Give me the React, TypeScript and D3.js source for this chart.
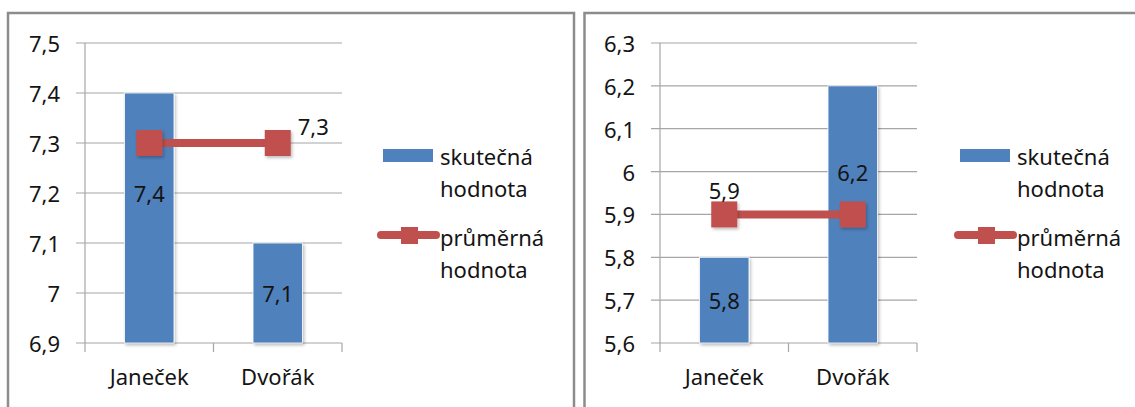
import React from "react";
import * as d3 from "d3";

const categories = ["Janeček", "Dvořák"];
const leftActual = [7.4, 7.1];
const leftAverage = [7.3, 7.3];
const leftTicks = [6.9, 7.0, 7.1, 7.2, 7.3, 7.4, 7.5];
const rightActual = [5.8, 6.2];
const rightAverage = [5.9, 5.9];
const rightTicks = [5.6, 5.7, 5.8, 5.9, 6.0, 6.1, 6.2, 6.3];
const legendLabels = [["skutečná", "hodnota"], ["průměrná", "hodnota"]];

const BLUE = "#4F81BD";
const RED = "#C0504D";
const GRID = "#A6A6A6";
const TEXT = "#141414";
const FONT = "'Noto Sans', 'Open Sans', sans-serif";
const FS = 22;

const fmt = (v: number) => {
  const s = d3.format("~g")(+v.toFixed(2));
  return s.replace(".", ",");
};

type PanelProps = {
  frameX: number;
  x0: number;
  x1: number;
  domain: [number, number];
  ticks: number[];
  actual: number[];
  average: number[];
  barLabelAt: number[];
  avgLabelIdx: number;
  avgLabelMode: "right" | "above";
  legendX: number;
};

function Panel(p: PanelProps) {
  const y0 = 343;
  const y1 = 43;
  const y = d3.scaleLinear().domain(p.domain).range([y0, y1]);
  const x = d3.scaleBand<string>().domain(categories).range([p.x0, p.x1]).padding(0);
  const bw = x.bandwidth() * 0.385;
  const cx = (c: string) => (x(c) as number) + x.bandwidth() / 2;
  const line = d3
    .line<number>()
    .x((_, i) => cx(categories[i]))
    .y((d) => y(d));
  const bounds = [p.x0, ...categories.map((c) => (x(c) as number) + x.bandwidth())];
  const ai = p.avgLabelIdx;
  const ax = cx(categories[ai]);
  const ay = y(p.average[ai]);
  const lx = p.legendX;
  return (
    <g>
      <rect x={p.frameX} y={13} width={566} height={420} fill="#fff" stroke="#8C8C8C" strokeWidth={2.5} />
      {p.ticks.map((t) => (
        <g key={t}>
          <line x1={p.x0 - 9} x2={p.x1} y1={y(t)} y2={y(t)} stroke={GRID} strokeWidth={1.2} />
          <text x={p.x0 - 25} y={y(t)} textAnchor="end" dominantBaseline="central" fontSize={FS} fill={TEXT}>
            {fmt(t)}
          </text>
        </g>
      ))}
      <line x1={p.x0} x2={p.x0} y1={y1} y2={y0} stroke={GRID} strokeWidth={1.2} />
      {bounds.map((b, i) => (
        <line key={i} x1={b} x2={b} y1={y0} y2={y0 + 9} stroke={GRID} strokeWidth={1.2} />
      ))}
      {categories.map((c) => (
        <text key={c} x={cx(c)} y={y0 + 33} textAnchor="middle" dominantBaseline="central" fontSize={FS} fill={TEXT}>
          {c}
        </text>
      ))}
      {p.actual.map((v, i) => (
        <rect
          key={i}
          x={cx(categories[i]) - bw / 2}
          y={y(v)}
          width={bw}
          height={y0 - y(v)}
          fill={BLUE}
          stroke="#fff"
          strokeWidth={0.8}
          filter="url(#shadow)"
        />
      ))}
      {p.actual.map((v, i) => (
        <text key={i} x={cx(categories[i])} y={y(p.barLabelAt[i])} textAnchor="middle" dominantBaseline="central" fontSize={FS} fill={TEXT}>
          {fmt(v)}
        </text>
      ))}
      <path d={line(p.average) || ""} fill="none" stroke={RED} strokeWidth={8} />
      {p.average.map((v, i) => (
        <rect key={i} x={cx(categories[i]) - 13} y={y(v) - 13} width={26} height={26} fill={RED} filter="url(#shadow)" />
      ))}
      {p.avgLabelMode === "right" ? (
        <text x={ax + 20} y={ay - 17} dominantBaseline="central" fontSize={FS} fill={TEXT}>
          {fmt(p.average[ai])}
        </text>
      ) : (
        <text x={ax} y={ay - 24} textAnchor="middle" dominantBaseline="central" fontSize={FS} fill={TEXT}>
          {fmt(p.average[ai])}
        </text>
      )}
      {/* legend */}
      <rect x={lx} y={149} width={50} height={13} fill={BLUE} />
      <line x1={lx - 2} x2={lx + 53} y1={235} y2={235} stroke={RED} strokeWidth={8} strokeLinecap="round" />
      <rect x={lx + 18} y={227} width={17} height={17} fill={RED} />
      {legendLabels.map((lines, k) =>
        lines.map((t, j) => (
          <text key={k + "-" + j} x={lx + 57} y={(k === 0 ? 156 : 237) + j * 32} dominantBaseline="central" fontSize={FS} fill={TEXT}>
            {t}
          </text>
        ))
      )}
    </g>
  );
}

export default function App() {
  return (
    <svg
      width={1135}
      height={407}
      style={{ position: "absolute", left: 0, top: 0, background: "#fff" }}
      fontFamily={FONT}
    >
      <defs>
        <filter id="shadow" x="-20%" y="-20%" width="150%" height="150%">
          <feDropShadow dx="1.5" dy="2" stdDeviation="1.5" floodColor="#000" floodOpacity="0.25" />
        </filter>
      </defs>
      <rect x={0} y={0} width={1135} height={407} fill="#fff" />
      <Panel
        frameX={8}
        x0={85}
        x1={342}
        domain={[6.9, 7.5]}
        ticks={leftTicks}
        actual={leftActual}
        average={leftAverage}
        barLabelAt={[7.2, 7.0]}
        avgLabelIdx={1}
        avgLabelMode="right"
        legendX={383}
      />
      <Panel
        frameX={584.5}
        x0={660}
        x1={917}
        domain={[5.6, 6.3]}
        ticks={rightTicks}
        actual={rightActual}
        average={rightAverage}
        barLabelAt={[5.7, 6.0]}
        avgLabelIdx={0}
        avgLabelMode="above"
        legendX={960}
      />
    </svg>
  );
}
